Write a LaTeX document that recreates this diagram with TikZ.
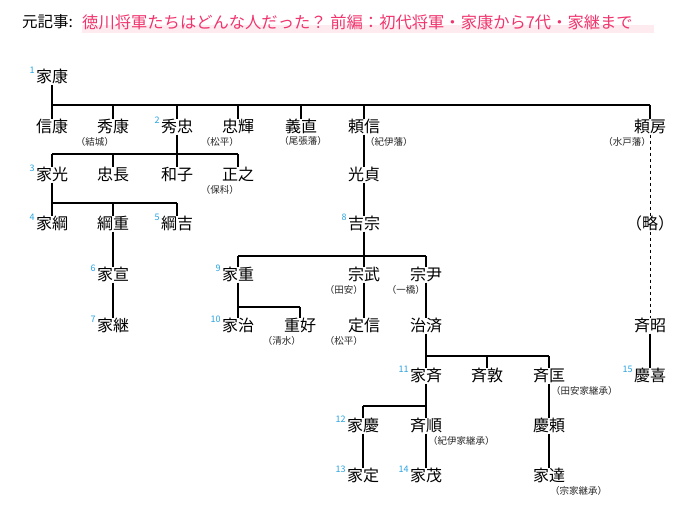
\documentclass[tikz,border=0pt]{standalone}
\usepackage{fontspec}
\setmainfont{Noto Sans CJK JP}
\usetikzlibrary{positioning}
\definecolor{numcol}{HTML}{29A3E0}
\definecolor{titcol}{HTML}{F0356E}
\tikzset{
  nm/.style={font=\fontsize{16}{16}\selectfont, inner sep=0pt, text height=13pt, text depth=2pt},
  nt/.style={font=\fontsize{9.5}{9.5}\selectfont, inner sep=0pt, text=black!85},
  num/.style={font=\fontsize{9}{9}\selectfont, text=numcol, inner sep=1pt},
  no/.style={label={[num,anchor=east,yshift=-1pt]north west:#1}},
  ln/.style={line width=1.3pt},
}
\begin{document}
\begin{tikzpicture}[x=1pt, y=-1pt]
\useasboundingbox (0,0) rectangle (678,519);
% title
\fill[titcol!10] (82,25) rectangle (654,33);
\node[anchor=west, inner sep=0pt, font=\fontsize{15.5}{15.5}\selectfont] (src) at (22,22) {元記事:};
\node[anchor=west, inner sep=0pt, font=\fontsize{16.3}{16.3}\selectfont, text=titcol] (tit) at (82,22)
  {徳川将軍たちはどんな人だった？ 前編：初代将軍・家康から7代・家継まで};
% names
\node[nm, no=1] (ieyasu) at (52,77) {家康};
\node[nm] (nobuyasu) at (52,127) {信康};
\node[nm] (hideyasu) at (113,127) {秀康};
\node[nm, no=2] (hidetada) at (177,127) {秀忠};
\node[nm] (tadateru) at (238,127) {忠輝};
\node[nm] (yoshinao) at (301,127) {義直};
\node[nm] (yorinobu) at (364,127) {頼信};
\node[nm] (yorifusa) at (650,127) {頼房};
\node[nm, no=3] (iemitsu) at (52,175) {家光};
\node[nm] (tadanaga) at (113,175) {忠長};
\node[nm] (kazuko) at (177,175) {和子};
\node[nm] (masayuki) at (238,175) {正之};
\node[nm] (mitsusada) at (364,175) {光貞};
\node[nm, no=4] (ietsuna) at (52,224) {家綱};
\node[nm] (tsunashige) at (113,224) {綱重};
\node[nm, no=5] (tsunayoshi) at (177,224) {綱吉};
\node[nm, no=8] (yoshimune) at (364,224) {吉宗};
\node[nm] (ryaku) at (650,224) {（略）};
\node[nm, no=6] (ienobu) at (113,275) {家宣};
\node[nm, no=9] (ieshige) at (238,275) {家重};
\node[nm] (munetake) at (364,275) {宗武};
\node[nm] (munetada) at (426,275) {宗尹};
\node[nm, no=7] (ietsugu) at (113,326) {家継};
\node[nm, no=10] (ieharu) at (238,326) {家治};
\node[nm] (shigeyoshi) at (300,326) {重好};
\node[nm] (sadanobu) at (364,326) {定信};
\node[nm] (harusada) at (426,326) {治済};
\node[nm] (nariaki) at (650,326) {斉昭};
\node[nm, no=11] (ienari) at (426,376) {家斉};
\node[nm] (naritoshi) at (487,376) {斉敦};
\node[nm] (naritada) at (549,376) {斉匡};
\node[nm, no=15] (yoshinobu) at (650,376) {慶喜};
\node[nm, no=12] (ieyoshi) at (363,426) {家慶};
\node[nm] (nariyuki) at (426,426) {斉順};
\node[nm] (yoshiyori) at (549,426) {慶頼};
\node[nm, no=13] (iesada) at (363,476) {家定};
\node[nm, no=14] (iemochi) at (426,476) {家茂};
\node[nm] (iesato) at (549,476) {家達};
% notes
\node[nt, anchor=north east] at ([xshift=1pt,yshift=-2pt]hideyasu.south) {（結城）};
\node[nt, anchor=north east] at ([xshift=1pt,yshift=-2pt]tadateru.south) {（松平）};
\node[nt] at (303,141) {（尾張藩）};
\node[nt, anchor=north west] at ([xshift=1pt,yshift=-2pt]yorinobu.south) {（紀伊藩）};
\node[nt, anchor=north east] at ([xshift=1pt,yshift=-2pt]yorifusa.south) {（水戸藩）};
\node[nt, anchor=north east] at ([xshift=1pt,yshift=-2pt]masayuki.south) {（保科）};
\node[nt, anchor=north east] at ([xshift=-1pt,yshift=-2pt]munetake.south) {（田安）};
\node[nt, anchor=north east] at ([xshift=-1pt,yshift=-2pt]munetada.south) {（一橋）};
\node[nt, anchor=north east] at ([xshift=1pt,yshift=-2pt]shigeyoshi.south) {（清水）};
\node[nt, anchor=north east] at ([xshift=-1pt,yshift=-2pt]sadanobu.south) {（松平）};
\node[nt, anchor=north west] at ([xshift=2pt,yshift=-2pt]naritada.south) {（田安家継承）};
\node[nt, anchor=north west] at ([xshift=2pt,yshift=-2pt]nariyuki.south) {（紀伊家継承）};
\node[nt, anchor=north west] at ([xshift=1pt,yshift=-2pt]iesato.south) {（宗家継承）};
% bars
\coordinate (b1) at (0,105);
\coordinate (b2) at (0,154);
\coordinate (b3) at (0,203);
\coordinate (b4) at (0,256);
\coordinate (b5) at (0,307);
\coordinate (b6) at (0,356);
\coordinate (b7) at (0,406);
\draw[ln] (nobuyasu |- b1) -- (yorifusa |- b1);
\draw[ln] (iemitsu |- b2) -- (masayuki |- b2);
\draw[ln] (ietsuna |- b3) -- (tsunayoshi |- b3);
\draw[ln] (ieshige |- b4) -- (munetada |- b4);
\draw[ln] (ieharu |- b5) -- (shigeyoshi |- b5);
\draw[ln] (ienari |- b6) -- (naritada |- b6);
\draw[ln] (ieyoshi |- b7) -- (nariyuki |- b7);
\draw[ln] (ieyasu.south) -- (ieyasu |- b1);
\foreach \c in {nobuyasu,hideyasu,hidetada,tadateru,yoshinao,yorinobu,yorifusa}
  \draw[ln] (\c |- b1) -- (\c.north);
\draw[ln] (hidetada.south) -- (hidetada |- b2);
\foreach \c in {iemitsu,tadanaga,kazuko,masayuki}
  \draw[ln] (\c |- b2) -- (\c.north);
\draw[ln] (iemitsu.south) -- (iemitsu |- b3);
\foreach \c in {ietsuna,tsunashige,tsunayoshi}
  \draw[ln] (\c |- b3) -- (\c.north);
\draw[ln] (yoshimune.south) -- (yoshimune |- b4);
\foreach \c in {ieshige,munetake,munetada}
  \draw[ln] (\c |- b4) -- (\c.north);
\draw[ln] (ieshige.south) -- (ieshige |- b5);
\foreach \c in {ieharu,shigeyoshi}
  \draw[ln] (\c |- b5) -- (\c.north);
\draw[ln] (harusada.south) -- (harusada |- b6);
\foreach \c in {ienari,naritoshi,naritada}
  \draw[ln] (\c |- b6) -- (\c.north);
\draw[ln] (ienari.south) -- (ienari |- b7);
\foreach \c in {ieyoshi,nariyuki}
  \draw[ln] (\c |- b7) -- (\c.north);
% single lines
\draw[ln] (tsunashige) -- (ienobu) -- (ietsugu);
\draw[ln] (yorinobu) -- (mitsusada) -- (yoshimune);
\draw[ln] (munetake) -- (sadanobu);
\draw[ln] (munetada) -- (harusada);
\draw[ln] (ieyoshi) -- (iesada);
\draw[ln] (nariyuki) -- (iemochi);
\draw[ln] (naritada) -- (yoshiyori) -- (iesato);
\draw[ln] (nariaki) -- (yoshinobu);
\draw[dashed, line width=0.6pt] (yorifusa) -- (ryaku) -- (nariaki);
\end{tikzpicture}
\end{document}
